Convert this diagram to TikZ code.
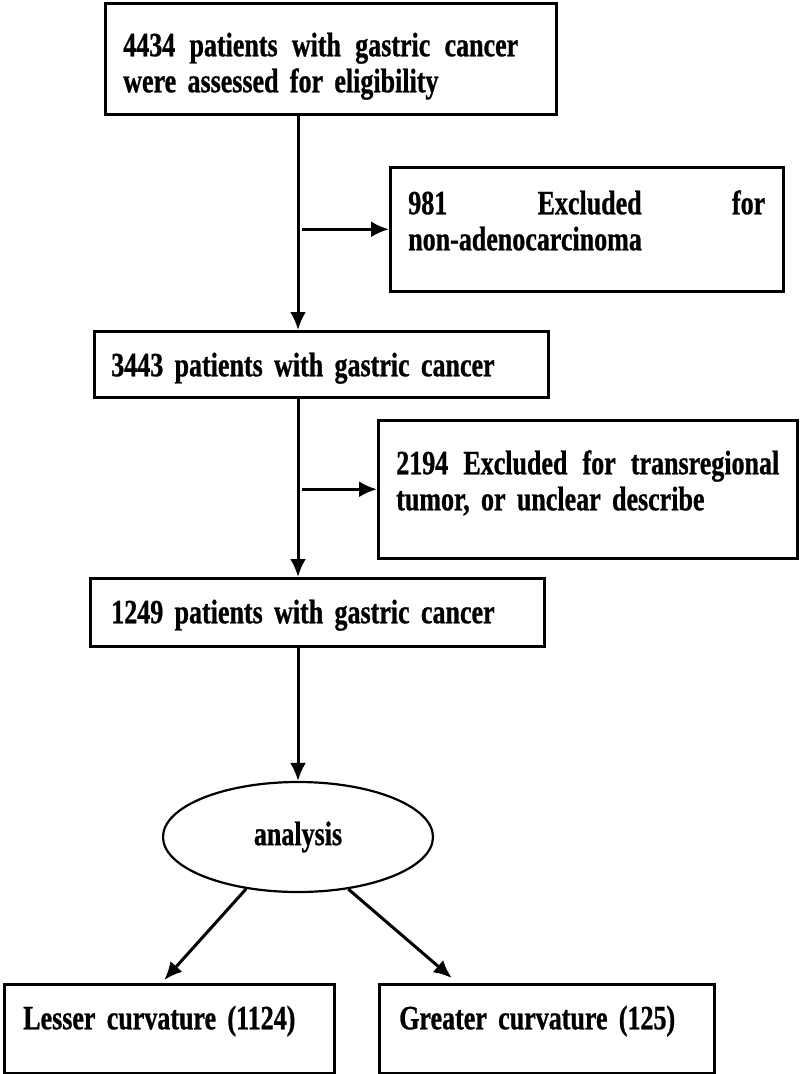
\documentclass[tikz,border=0pt]{standalone}
\usepackage{fontspec}
\setmainfont{Liberation Serif}[FakeStretch=0.765,BoldFeatures={FakeBold=0.8}]
\usetikzlibrary{arrows.meta,shapes.geometric}

\tikzset{
  box/.style={draw,line width=2.5pt,anchor=north west,inner ysep=0pt,inner xsep=18pt,
    align=left,font=\bfseries\fontsize{34}{36}\selectfont},
  arr/.style={line width=3pt,-{Latex[length=18pt,width=16pt]}},
}

\begin{document}
\begin{tikzpicture}[x=1pt,y=-1pt]
\useasboundingbox (0,0) rectangle (800,1074);

% Main line
\node[box,text width=415pt,text height=53pt,text depth=58pt] (start) at (104,2)
  {\makebox[395pt][l]{4434\hfill patients\hfill with\hfill gastric\hfill cancer}\\were assessed for eligibility};
\node[box,text width=420pt,text height=45pt,text depth=21pt,inner xsep=17pt] (pat2) at (93,330)
  {3443 patients with gastric cancer};
\node[box,text width=412pt,text height=45pt,text depth=23pt,inner xsep=21pt] (pat3) at (89,577)
  {1249 patients with gastric cancer};

% Exclusions
\node[box,text width=357pt,text height=47pt,text depth=77pt] (excl1) at (389,166)
  {981\hfill Excluded\hfill for\\non-adenocarcinoma};
\node[box,text width=383pt,text height=54pt,text depth=84pt] (excl2) at (377,419)
  {2194\hfill Excluded\hfill for\hfill transregional\\tumor, or unclear describe};

% Analysis
\node[draw,ellipse,line width=2.2pt,minimum width=270pt,minimum height=110pt,inner sep=0pt,
  font=\bfseries\fontsize{34}{36}\selectfont] (ana) at (298,837) {analysis};

% Groups
\node[box,text width=292pt,text height=45pt,text depth=44pt,inner xsep=19pt] (lesser) at (3,983)
  {Lesser curvature (1124)};
\node[box,text width=295pt,text height=45pt,text depth=44pt,inner xsep=20pt] (greater) at (378,983)
  {Greater curvature (125)};

% Arrows
\draw[arr] (start.south -| ana.north) -- (pat2.north -| ana.north);
\draw[arr] (excl1.west -| ana.north) ++(4pt,0) -- (excl1.west);
\draw[arr] (pat2.south -| ana.north) -- (pat3.north -| ana.north);
\draw[arr] (excl2.west -| ana.north) ++(4pt,0) -- (excl2.west);
\draw[arr] (pat3.south -| ana.north) -- (ana.north);
\draw[arr] (ana.225) -- ([xshift=-5pt,yshift=3pt]lesser.north);
\draw[arr] (ana.-46) -- ([xshift=-95pt,yshift=5pt]greater.north);
\end{tikzpicture}
\end{document}
